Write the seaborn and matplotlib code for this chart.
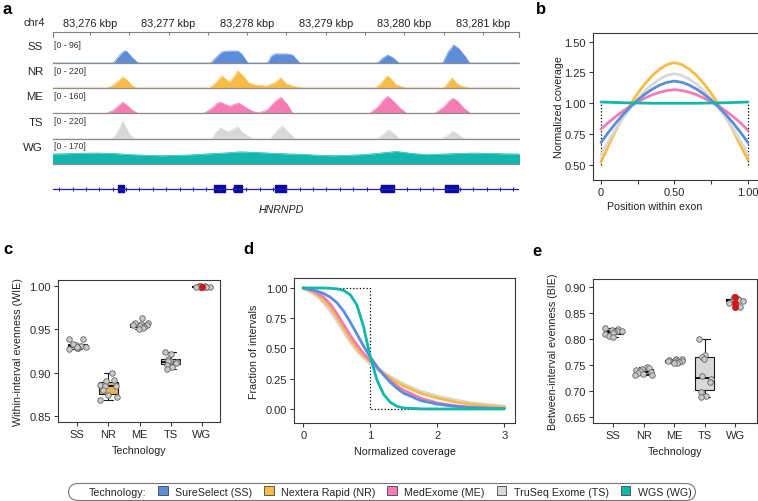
import numpy as np
import pandas as pd
import matplotlib
matplotlib.use('Agg')
import matplotlib.pyplot as plt
import seaborn as sns
from matplotlib.patches import Patch

# ---------------- data ----------------
techs = ['SS', 'NR', 'ME', 'TS', 'WG']
tech_names = ['SureSelect (SS)', 'Nextera Rapid (NR)', 'MedExome (ME)',
              'TruSeq Exome (TS)', 'WGS (WG)']
tech_colors = ['#5B8DDB', '#F8BB46', '#F47BB4', '#D8D8D8', '#11B6AC']

# a: read depth around HNRNPD (position in kbp)
view_start, view_end = 83275.53, 83281.46
ruler_kbp = [83276, 83277, 83278, 83279, 83280, 83281]
track_max = [96, 220, 160, 220, 170]

ss_pos = [83275.5,
          83276.30, 83276.36, 83276.42, 83276.445, 83276.47, 83276.53, 83276.61,
          83277.54, 83277.60, 83277.68, 83277.78, 83277.88, 83277.93, 83278.01,
          83278.26, 83278.31, 83278.36, 83278.50, 83278.58, 83278.67,
          83279.66, 83279.73, 83279.79, 83279.86, 83279.93,
          83280.49, 83280.56, 83280.63, 83280.70, 83280.78, 83280.83,
          83281.5]
ss_cov = [0,
          0, 25, 46, 50, 48, 25, 0,
          0, 21, 46, 50, 50, 38, 0,
          0, 29, 38, 38, 33, 0,
          0, 21, 33, 21, 0,
          0, 46, 75, 58, 25, 0,
          0]

nr_pos = [83275.5,
          83276.22, 83276.30, 83276.38, 83276.42, 83276.47, 83276.54, 83276.60,
          83277.52, 83277.60, 83277.68, 83277.74, 83277.78, 83277.84, 83277.88, 83277.95,
          83278.02, 83278.10, 83278.25, 83278.35, 83278.43, 83278.50, 83278.58, 83278.71,
          83279.63, 83279.70, 83279.76, 83279.79, 83279.83, 83279.90, 83280.03,
          83280.50, 83280.56, 83280.61, 83280.66, 83280.72, 83280.84,
          83281.5]
nr_cov = [0,
          0, 29, 77, 105, 77, 19, 0,
          0, 48, 115, 77, 57, 115, 163, 115,
          48, 29, 19, 48, 96, 38, 19, 0,
          0, 38, 96, 115, 86, 29, 0,
          0, 48, 96, 48, 19, 0,
          0]

me_pos = [83275.5,
          83276.21, 83276.30, 83276.37, 83276.42, 83276.47, 83276.54, 83276.61,
          83277.45, 83277.55, 83277.62, 83277.66, 83277.72, 83277.78, 83277.84, 83277.90,
          83277.98, 83278.07, 83278.14, 83278.25, 83278.36, 83278.43, 83278.50, 83278.58,
          83279.56, 83279.66, 83279.74, 83279.79, 83279.85, 83279.95, 83280.03,
          83280.39, 83280.50, 83280.58, 83280.62, 83280.68, 83280.76, 83280.84,
          83281.5]
me_cov = [0,
          0, 21, 56, 77, 56, 21, 0,
          0, 35, 70, 77, 63, 49, 63, 70,
          42, 14, 3, 21, 84, 111, 70, 0,
          0, 42, 97, 118, 90, 35, 0,
          0, 42, 90, 104, 84, 35, 0,
          0]

ts_pos = [83275.5,
          83276.28, 83276.34, 83276.39, 83276.42, 83276.45, 83276.50, 83276.57,
          83277.55, 83277.61, 83277.66, 83277.76, 83277.83, 83277.88, 83277.95, 83278.07,
          83278.29, 83278.38, 83278.45, 83278.52, 83278.61,
          83279.66, 83279.74, 83279.80, 83279.87, 83279.94,
          83280.48, 83280.56, 83280.62, 83280.69, 83280.77,
          83281.5]
ts_cov = [0,
          0, 48, 124, 172, 124, 48, 0,
          0, 67, 105, 67, 96, 115, 57, 0,
          0, 77, 124, 67, 0,
          0, 48, 86, 48, 0,
          0, 38, 77, 38, 0,
          0]

wg_pos = [83275.5, 83275.7, 83275.9, 83276.1, 83276.3, 83276.5, 83276.7, 83276.9,
          83277.1, 83277.3, 83277.5, 83277.7, 83277.9, 83278.1, 83278.3, 83278.5,
          83278.7, 83278.9, 83279.1, 83279.3, 83279.5, 83279.7, 83279.9, 83280.1,
          83280.3, 83280.5, 83280.7, 83280.9, 83281.1, 83281.3, 83281.5]
wg_cov = [74, 76, 80, 81, 78, 70, 65, 61, 64, 68, 75, 81, 90, 86, 80, 75,
          72, 65, 61, 65, 70, 81, 93, 78, 69, 74, 78, 81, 78, 75, 74]

exon_start = [83276.36, 83277.58, 83277.83, 83278.35, 83279.70, 83280.52]
exon_end = [83276.43, 83277.72, 83277.93, 83278.49, 83279.87, 83280.68]

# b: coverage profile along the exon
exon_pos = [0, 0.05, 0.1, 0.15, 0.2, 0.25, 0.3, 0.35, 0.4, 0.45, 0.5,
            0.55, 0.6, 0.65, 0.7, 0.75, 0.8, 0.85, 0.9, 0.95, 1.0]
prof_nr = [0.52, 0.653, 0.776, 0.889, 0.990, 1.081, 1.159, 1.226, 1.278, 1.314, 1.33,
           1.314, 1.278, 1.226, 1.159, 1.081, 0.990, 0.889, 0.776, 0.655, 0.54]
prof_ts = [0.58, 0.688, 0.789, 0.880, 0.963, 1.037, 1.101, 1.155, 1.197, 1.227, 1.24,
           1.227, 1.197, 1.155, 1.101, 1.037, 0.963, 0.880, 0.789, 0.690, 0.59]
prof_ss = [0.68, 0.762, 0.838, 0.907, 0.970, 1.026, 1.074, 1.115, 1.148, 1.170, 1.18,
           1.170, 1.148, 1.115, 1.074, 1.026, 0.970, 0.907, 0.838, 0.762, 0.68]
prof_me = [0.79, 0.842, 0.891, 0.936, 0.976, 1.011, 1.042, 1.069, 1.089, 1.104, 1.11,
           1.104, 1.089, 1.069, 1.042, 1.011, 0.976, 0.936, 0.891, 0.840, 0.78]
prof_wg = [1.010, 1.008, 1.006, 1.004, 1.003, 1.002, 1.001, 1.000, 1.000, 1.000, 1.000,
           1.000, 1.000, 1.000, 1.001, 1.002, 1.003, 1.004, 1.006, 1.008, 1.010]
ideal_edges = [0, 1]
ideal_lo, ideal_hi = 0.5, 1.0

# c: within-interval evenness per sample
wie = {
    'SS': [0.939, 0.939, 0.932, 0.931, 0.930, 0.929, 0.928, 0.927, 0.933, 0.930],
    'NR': [0.899, 0.891, 0.890, 0.886, 0.885, 0.884, 0.880, 0.874, 0.872, 0.868],
    'ME': [0.963, 0.958, 0.957, 0.956, 0.955, 0.955, 0.954, 0.953, 0.952, 0.951],
    'TS': [0.924, 0.922, 0.916, 0.914, 0.913, 0.912, 0.911, 0.909, 0.907, 0.904],
    'WG': [1.000, 1.000, 0.9999, 0.9999, 0.9998, 0.9998, 0.9997, 0.9996, 0.9994, 0.9992],
}

# d: fraction of intervals above a normalized coverage
norm_cov = [0, 0.1, 0.2, 0.3, 0.4, 0.5, 0.6, 0.7, 0.8, 0.9, 1.0, 1.1,
            1.2, 1.3, 1.4, 1.5, 1.75, 2.0, 2.25, 2.5, 2.75, 3.0]
frac_wg = [1.0, 1.0, 1.0, 1.0, 0.998, 0.993, 0.98, 0.945, 0.86, 0.68, 0.43, 0.24,
           0.12, 0.055, 0.022, 0.008, 0.001, 0, 0, 0, 0, 0]
frac_ss = [1.0, 0.99, 0.975, 0.955, 0.925, 0.88, 0.81, 0.72, 0.62, 0.52, 0.43, 0.35,
           0.28, 0.22, 0.17, 0.13, 0.07, 0.04, 0.022, 0.012, 0.006, 0.003]
frac_me = [1.0, 0.985, 0.96, 0.925, 0.87, 0.79, 0.70, 0.61, 0.53, 0.46, 0.40, 0.34,
           0.285, 0.235, 0.19, 0.155, 0.09, 0.05, 0.028, 0.015, 0.008, 0.004]
frac_nr = [1.0, 0.98, 0.95, 0.90, 0.84, 0.76, 0.67, 0.58, 0.50, 0.44, 0.39, 0.34,
           0.295, 0.255, 0.22, 0.19, 0.13, 0.09, 0.06, 0.04, 0.025, 0.015]
frac_ts = [1.0, 0.975, 0.94, 0.89, 0.82, 0.74, 0.65, 0.565, 0.49, 0.43, 0.38, 0.335,
           0.295, 0.26, 0.23, 0.20, 0.14, 0.10, 0.07, 0.045, 0.03, 0.018]
step_x = [0, 1, 1, 3]
step_y = [1, 1, 0, 0]

# e: between-interval evenness per sample
bie = {
    'SS': [0.822, 0.820, 0.818, 0.816, 0.815, 0.813, 0.812, 0.810, 0.806, 0.804],
    'NR': [0.746, 0.744, 0.742, 0.740, 0.738, 0.736, 0.734, 0.732, 0.731, 0.730],
    'ME': [0.762, 0.761, 0.760, 0.759, 0.758, 0.757, 0.756, 0.755, 0.754, 0.753],
    'TS': [0.800, 0.769, 0.766, 0.762, 0.729, 0.722, 0.718, 0.697, 0.690, 0.689],
    'WG': [0.881, 0.877, 0.877, 0.876, 0.875, 0.875, 0.874, 0.874, 0.869, 0.862],
}

# ---------------- figure ----------------
sns.set_theme(style='white')
plt.rcParams['font.family'] = ['Liberation Sans', 'DejaVu Sans']

W, H = 758, 502
palette = dict(zip(techs, tech_colors))
fig = plt.figure(figsize=(W / 100, H / 100), dpi=100)


def rect(l, t, r, b):
    # pixel box -> figure fraction
    return [l / W, 1 - b / H, (r - l) / W, (b - t) / H]


def style(ax):
    for s in ax.spines.values():
        s.set_visible(True)
        s.set_color('#3a3a3a')
        s.set_linewidth(0.8)
    ax.tick_params(length=3, width=0.8, color='#3a3a3a', labelsize=8,
                   labelcolor='#2a2a2a', pad=2, direction='out',
                   bottom=True, left=True)
    ax.grid(False)


# --- a: genome browser tracks ---
axr = fig.add_axes(rect(53, 32.7, 519, 37.5))
axr.set_xlim(view_start, view_end)
axr.set_ylim(0, 1)
axr.set_yticks([])
axr.xaxis.tick_top()
axr.set_xticks(ruler_kbp)
axr.set_xticklabels([f'{v:,} kbp' for v in ruler_kbp], fontsize=7.9, color='#222')
axr.set_xticks([v + 0.5 for v in ruler_kbp[:-1]], minor=True)
axr.tick_params(which='both', direction='in', length=2.5, width=0.8,
                color='#808080', pad=3, top=True, bottom=False)
axr.spines['bottom'].set_visible(False)
for s in ['top', 'left', 'right']:
    axr.spines[s].set_color('#808080')
    axr.spines[s].set_linewidth(0.8)
fig.text(34 / W, 1 - 23 / H, 'chr4', ha='center', va='center', fontsize=7.9, color='#222')

track_pos = [ss_pos, nr_pos, me_pos, ts_pos, wg_pos]
track_cov = [ss_cov, nr_cov, me_cov, ts_cov, wg_cov]
baselines = [64, 89, 114.3, 140, 165]
for i, t in enumerate(techs):
    ax = fig.add_axes(rect(53, baselines[i] - 23, 519, baselines[i]))
    ax.fill_between(track_pos[i], track_cov[i], 0, color=tech_colors[i], lw=0)
    ax.plot(track_pos[i], track_cov[i], color=tech_colors[i], lw=0.5)
    ax.set_xlim(view_start, view_end)
    ax.set_ylim(0, track_max[i])
    ax.set_xticks([])
    ax.set_yticks([])
    for s in ['top', 'left', 'right']:
        ax.spines[s].set_visible(False)
    ax.spines['bottom'].set_color('#8c8c8c')
    ax.spines['bottom'].set_linewidth(0.9)
    ax.patch.set_alpha(0)
    fig.text(43 / W, 1 - (baselines[i] - 17) / H, t, ha='right', va='center',
             fontsize=8.2, color='#222')
    fig.text(54 / W, 1 - (baselines[i] - 18) / H, f'[0 - {track_max[i]}]',
             ha='left', va='center', fontsize=6.2, color='#333')

axg = fig.add_axes(rect(53, 180, 519, 199))
axg.set_xlim(view_start, view_end)
axg.set_ylim(0, 1)
axg.axis('off')
axg.plot([view_start, view_end], [0.5, 0.5], color='#2020B0', lw=0.9)
strand = np.arange(view_start + 0.08, view_end, 0.17)
axg.plot(strand, np.full(len(strand), 0.5), ls='none', marker='|', ms=2.5,
         mew=0.8, color='#2020B0')
axg.broken_barh([(s, e - s) for s, e in zip(exon_start, exon_end)], (0.31, 0.38),
                color='#0A0A9E')
fig.text(281 / W, 1 - 210 / H, 'HNRNPD', ha='center', va='center', fontsize=7.7,
         style='italic', color='#222')

# --- b: profile along exon ---
axb = fig.add_axes(rect(593, 34, 764, 181))
dfb = pd.DataFrame({
    'pos': exon_pos * 5,
    'cov': prof_ss + prof_nr + prof_me + prof_ts + prof_wg,
    'tech': np.repeat(techs, len(exon_pos)),
})
axb.vlines(ideal_edges, ideal_lo, ideal_hi, colors='black', linestyles=':',
           lw=0.9, zorder=1.5)
sns.lineplot(data=dfb, x='pos', y='cov', hue='tech',
             hue_order=['NR', 'TS', 'ME', 'SS', 'WG'], palette=palette,
             lw=2, legend=False, sort=False, ax=axb)
style(axb)
axb.set_xlim(-0.054, 1.109)
axb.set_ylim(0.376, 1.571)
axb.set_xticks([0, 0.25, 0.5, 0.75, 1.0])
axb.set_xticklabels(['0', '', '0.50', '', '1.00'])
axb.set_yticks([0.5, 0.75, 1.0, 1.25, 1.5])
axb.set_yticklabels(['0.50', '0.75', '1.00', '1.25', '1.50'])
axb.set_xlabel('Position within exon', fontsize=7.7, color='#222')
axb.set_ylabel('Normalized coverage', fontsize=7.7, color='#222')
axb.xaxis.set_label_coords(0.36, -0.143)
axb.yaxis.set_label_coords(-0.1725, 0.5)

# --- c and e: evenness boxplots ---
flier = dict(marker='o', markerfacecolor='#D01818', markeredgecolor='#D01818',
             markersize=4)


def box_panel(ax, values, ylim, yticks, ylabel):
    df = pd.DataFrame({'tech': np.repeat(techs, 10),
                       'val': np.concatenate([values[t] for t in techs])})
    sns.boxplot(data=df, x='tech', y='val', hue='tech', order=techs,
                hue_order=techs, palette=palette, legend=False, width=0.62,
                linecolor='#1a1a1a', linewidth=0.8, flierprops=flier,
                medianprops=dict(lw=1.3, color='black'), ax=ax)
    # red outliers only show for WGS; elsewhere they sit under the sample points
    for line in ax.lines:
        if line.get_marker() == 'o' and len(line.get_xdata()) > 0:
            if abs(np.mean(line.get_xdata()) - techs.index('WG')) > 0.5:
                line.set_visible(False)
            else:
                line.set_zorder(5)
    np.random.seed(7)
    sns.stripplot(data=df, x='tech', y='val', order=techs, color='#C9C9C9',
                  edgecolor='#666666', linewidth=0.6, size=4, jitter=0.3, ax=ax)
    style(ax)
    ax.set_ylim(*ylim)
    ax.set_yticks(yticks)
    ax.set_yticklabels([f'{v:.2f}' for v in yticks])
    ax.set_xlabel('Technology', fontsize=7.7, color='#222')
    ax.set_ylabel(ylabel, fontsize=7.7, color='#222')


axc = fig.add_axes(rect(58, 280.7, 220, 423))
box_panel(axc, wie, (0.8427, 1.0077), [0.85, 0.90, 0.95, 1.00],
          'Within-interval evenness (WIE)')
axc.set_xlim(-0.62, 4.58)
axc.xaxis.set_label_coords(0.5, -0.162)
axc.yaxis.set_label_coords(-0.213, 0.5)

axe = fig.add_axes(rect(593.3, 280, 756.7, 424))
box_panel(axe, bie, (0.638, 0.916), [0.65, 0.70, 0.75, 0.80, 0.85, 0.90],
          'Between-interval evenness (BIE)')
axe.set_xlim(-0.65, 4.7)
axe.xaxis.set_label_coords(0.5, -0.16)
axe.yaxis.set_label_coords(-0.213, 0.5)

# --- d: fraction of intervals ---
axd = fig.add_axes(rect(294.3, 279.3, 515, 424))
dfd = pd.DataFrame({
    'x': norm_cov * 5,
    'frac': frac_ss + frac_nr + frac_me + frac_ts + frac_wg,
    'tech': np.repeat(techs, len(norm_cov)),
})
axd.plot(step_x, step_y, color='black', ls=':', lw=0.9, zorder=1.5)
d_order = ['TS', 'NR', 'ME', 'SS', 'WG']
sns.lineplot(data=dfd, x='x', y='frac', hue='tech', hue_order=d_order,
             palette=palette, lw=2, legend=False, sort=False, ax=axd)
for line in axd.lines[1:2]:
    line.set_linewidth(3.2)
style(axd)
axd.set_xlim(-0.134, 3.16)
axd.set_ylim(-0.116, 1.08)
axd.set_xticks([0, 1, 2, 3])
axd.set_yticks([0, 0.25, 0.5, 0.75, 1.0])
axd.set_yticklabels(['0.00', '0.25', '0.50', '0.75', '1.00'])
axd.set_xlabel('Normalized coverage', fontsize=7.7, color='#222')
axd.set_ylabel('Fraction of intervals', fontsize=7.7, color='#222')
axd.xaxis.set_label_coords(0.5, -0.159)
axd.yaxis.set_label_coords(-0.162, 0.5)

# --- panel letters ---
for letter, (px, py) in zip('abcde', [(7, 10), (541, 10), (8, 250), (248, 250), (537, 252)]):
    fig.text(px / W, 1 - py / H, letter, fontsize=12, fontweight='bold',
             ha='center', va='center', color='black')

# --- shared legend ---
handles = [Patch(facecolor='none', edgecolor='none', label='Technology:')]
handles += [Patch(facecolor=c, edgecolor='#444444', lw=0.6, label=n)
            for c, n in zip(tech_colors, tech_names)]
leg = fig.legend(handles=handles, loc='center', ncol=6,
                 bbox_to_anchor=((66 + 697) / 2 / W, 1 - 492.5 / H),
                 fontsize=7.7, handlelength=0.9, handleheight=0.9,
                 handletextpad=0.7, columnspacing=1.1, borderpad=0.35,
                 frameon=True, fancybox=True, edgecolor='#555555')
leg.get_frame().set_boxstyle('round,pad=0,rounding_size=0.9')
leg.get_frame().set_linewidth(0.8)

fig.savefig('out.png', dpi=100)
